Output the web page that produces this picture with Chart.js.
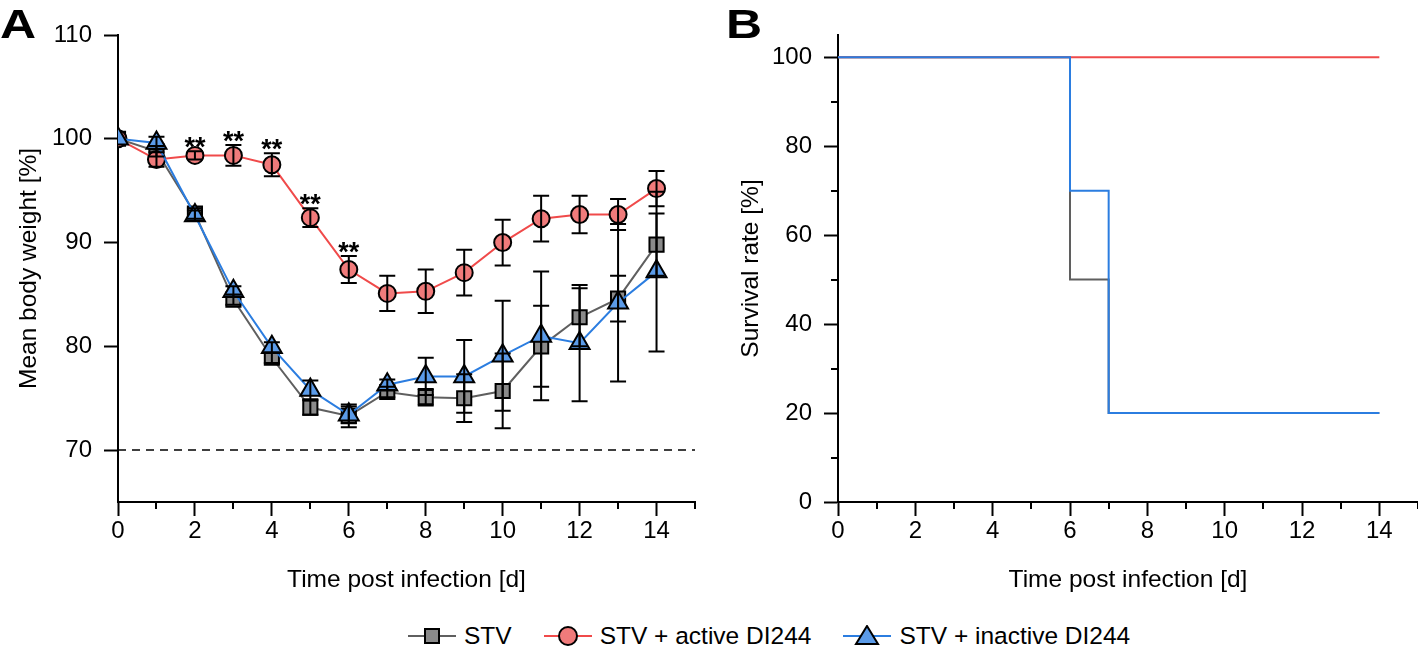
<!DOCTYPE html>
<html>
<head>
<meta charset="utf-8">
<script src="https://cdn.jsdelivr.net/npm/chart.js@4.4.1/dist/chart.umd.min.js"></script>
<style>
  body { margin: 0; background: #fff; font-family: "Liberation Sans", Arial, sans-serif; }
  #wrap { position: relative; width: 1418px; height: 648px; overflow: hidden; }
  #chartA { position: absolute; left: 0; top: 0; }
  #chartB { position: absolute; left: 710px; top: 0; }
  .panel { position: absolute; font-weight: bold; font-size: 40px; line-height: 40px; transform: scaleX(1.25); transform-origin: left top; }
  #legend { position: absolute; left: 408px; top: 622px; display: flex; align-items: center; font-size: 24.5px; }
  #legend .item { display: flex; align-items: center; margin-right: 32px; }
  #legend svg { margin-right: 8px; }
</style>
</head>
<body>
<div id="wrap">
  <canvas id="chartA" width="710" height="600"></canvas>
  <canvas id="chartB" width="708" height="600"></canvas>
  <div class="panel" style="left:0;top:4px;">A</div>
  <div class="panel" style="left:726px;top:4px;">B</div>
  <div id="legend"></div>
</div>
<script>
// ---- data (panel A: body weight) ----
const days = [0, 1, 2, 3, 4, 5, 6, 7, 8, 9, 10, 11, 12, 13, 14];
const stvWeight = [100, 98.8, 92.8, 84.5, 78.9, 74.1, 73.3, 75.6, 75.1, 75.0, 75.7, 80.0, 82.8, 84.6, 89.8];
const stvErr = [0, 0.5, 0.5, 0.5, 0.5, 0.7, 1.1, 0.5, 0.8, 2.3, 3.6, 3.9, 2.8, 2.2, 3.0];
const activeWeight = [100, 98.0, 98.4, 98.4, 97.5, 92.4, 87.4, 85.1, 85.3, 87.1, 90.0, 92.3, 92.7, 92.7, 95.2];
const activeErr = [0, 0.7, 0.4, 1.0, 1.1, 0.9, 1.3, 1.7, 2.1, 2.2, 2.2, 2.2, 1.8, 1.5, 1.7];
const inactiveWeight = [100, 99.6, 92.6, 85.3, 79.9, 75.8, 73.4, 76.3, 77.1, 77.1, 79.1, 81.0, 80.3, 84.2, 87.2];
const inactiveErr = [0, 0.6, 0.5, 0.5, 0.5, 0.9, 0.8, 0.5, 1.8, 3.5, 5.3, 6.2, 5.6, 7.6, 7.7];
const starDays = [2, 3, 4, 5, 6];
const thresholdLine = 70;

// ---- data (panel B: survival) ----
const stvSurvDays = [0, 6, 7, 14];
const stvSurv = [100, 50, 20, 20];
const activeSurvDays = [0, 14];
const activeSurv = [100, 100];
const inactiveSurvDays = [0, 6, 7, 14];
const inactiveSurv = [100, 70, 20, 20];

// ---- ticks ----
const xTicks = [0, 2, 4, 6, 8, 10, 12, 14];
const xMinorTicks = [1, 3, 5, 7, 9, 11, 13, 15];
const yTicksA = [70, 80, 90, 100, 110];
const yTicksB = [0, 20, 40, 60, 80, 100];
const yMinorTicksB = [10, 30, 50, 70, 90];

const labels = ['STV', 'STV + active DI244', 'STV + inactive DI244'];

const GRAY_LINE = '#5f5f5f', GRAY_FILL = '#8a8a8a';
const RED_LINE = '#f04a4a', RED_FILL = '#f07b7b';
const BLUE_LINE = '#2b7de0', BLUE_FILL = '#5b9be8';
const FONT = '"Liberation Sans", Arial, sans-serif';

const toXY = (xs, ys) => xs.map((x, i) => ({ x, y: ys[i] }));

// error bars drawn on top of the datasets
const errorBarPlugin = {
    id: 'errorBars',
    afterDatasetsDraw(chart) {
        const ctx = chart.ctx;
        const xs = chart.scales.x, ys = chart.scales.y;
        ctx.save();
        ctx.strokeStyle = '#000';
        ctx.lineWidth = 2;
        chart.data.datasets.forEach(ds => {
            if (!ds.errors) return;
            ds.data.forEach((p, i) => {
                const e = ds.errors[i];
                if (!e) return;
                const px = xs.getPixelForValue(p.x);
                const top = ys.getPixelForValue(p.y + e);
                const bot = ys.getPixelForValue(p.y - e);
                ctx.beginPath();
                ctx.moveTo(px, top); ctx.lineTo(px, bot);
                ctx.moveTo(px - 8, top); ctx.lineTo(px + 8, top);
                ctx.moveTo(px - 8, bot); ctx.lineTo(px + 8, bot);
                ctx.stroke();
            });
        });
        // significance stars above the active series
        ctx.fillStyle = '#000';
        ctx.font = 'bold 27px ' + FONT;
        ctx.textAlign = 'center';
        ctx.textBaseline = 'alphabetic';
        starDays.forEach(d => {
            const i = days.indexOf(d);
            const px = xs.getPixelForValue(d);
            const top = ys.getPixelForValue(activeWeight[i] + activeErr[i]);
            ctx.fillText('**', px, top + 5);
        });
        ctx.restore();
    }
};

// short minor tick marks
const minorTickPlugin = {
    id: 'minorTicks',
    afterDraw(chart, args, opts) {
        const ctx = chart.ctx;
        const xs = chart.scales.x, ys = chart.scales.y;
        const area = chart.chartArea;
        ctx.save();
        ctx.strokeStyle = '#000';
        ctx.lineWidth = 2;
        ctx.beginPath();
        (opts.x || []).forEach(v => {
            const px = Math.round(xs.getPixelForValue(v));
            ctx.moveTo(px, area.bottom); ctx.lineTo(px, area.bottom + 7);
        });
        (opts.y || []).forEach(v => {
            const py = Math.round(ys.getPixelForValue(v));
            ctx.moveTo(area.left, py); ctx.lineTo(area.left - 7, py);
        });
        ctx.stroke();
        ctx.restore();
    }
};

function axes(cfg) {
    const tickFont = { family: FONT, size: 24 };
    const titleFont = { family: FONT, size: 24.5 };
    return {
        x: {
            type: 'linear', min: 0, max: 15,
            afterBuildTicks: s => { s.ticks = xTicks.map(v => ({ value: v })); },
            afterFit: s => { s.height = 98; },
            grid: { drawOnChartArea: false, drawTicks: true, tickLength: 14, tickWidth: 2, tickColor: '#000' },
            border: { display: true, color: '#000', width: 2 },
            ticks: { color: '#000', font: tickFont, padding: 1, maxRotation: 0 },
            title: { display: true, text: 'Time post infection [d]', color: '#000', font: titleFont, padding: { top: 0, bottom: 5 } }
        },
        y: {
            type: 'linear', min: cfg.ymin, max: cfg.ymax,
            afterBuildTicks: s => { s.ticks = cfg.yTicks.map(v => ({ value: v })); },
            afterFit: s => { s.width = cfg.yWidth; },
            grid: { drawOnChartArea: false, drawTicks: true, tickLength: 14, tickWidth: 2, tickColor: '#000' },
            border: { display: true, color: '#000', width: 2 },
            ticks: { color: '#000', font: tickFont, padding: 12 },
            title: { display: true, text: cfg.yTitle, color: '#000', font: titleFont, padding: { top: cfg.yTitlePad, bottom: 0 } }
        }
    };
}

function weightSeries(label, ys, errs, line, fill, style, radius, order) {
    return {
        label, data: toXY(days, ys), errors: errs, order,
        borderColor: line, borderWidth: 2,
        pointStyle: style, pointRadius: radius, pointBackgroundColor: fill,
        pointBorderColor: '#000', pointBorderWidth: 2
    };
}

new Chart(document.getElementById('chartA'), {
    type: 'line',
    data: {
        datasets: [
            weightSeries(labels[0], stvWeight, stvErr, GRAY_LINE, GRAY_FILL, 'rect', 10, 3),
            weightSeries(labels[1], activeWeight, activeErr, RED_LINE, RED_FILL, 'circle', 8.5, 2),
            weightSeries(labels[2], inactiveWeight, inactiveErr, BLUE_LINE, BLUE_FILL, 'triangle', 11.5, 1),
            {
                label: 'threshold', data: toXY([0, 15], [thresholdLine, thresholdLine]), order: 10,
                borderColor: '#000', borderWidth: 1.5, borderDash: [8, 6], pointRadius: 0
            }
        ]
    },
    options: {
        responsive: false, animation: false,
        layout: { padding: { left: 0, right: 15, top: 35, bottom: 0 } },
        plugins: { legend: { display: false }, tooltip: { enabled: false }, minorTicks: { x: xMinorTicks } },
        scales: axes({ ymin: 65, ymax: 110, yTicks: yTicksA, yWidth: 118, yTitle: 'Mean body weight [%]', yTitlePad: 15 })
    },
    plugins: [errorBarPlugin, minorTickPlugin]
});

function survSeries(label, xs, ys, color, order) {
    return {
        label, data: toXY(xs, ys), order, stepped: true,
        borderColor: color, borderWidth: 2, pointRadius: 0
    };
}

new Chart(document.getElementById('chartB'), {
    type: 'line',
    data: {
        datasets: [
            survSeries(labels[0], stvSurvDays, stvSurv, GRAY_LINE, 3),
            survSeries(labels[1], activeSurvDays, activeSurv, RED_LINE, 2),
            survSeries(labels[2], inactiveSurvDays, inactiveSurv, BLUE_LINE, 1)
        ]
    },
    options: {
        responsive: false, animation: false,
        layout: { padding: { left: 0, right: 0, top: 35, bottom: 0 } },
        plugins: { legend: { display: false }, tooltip: { enabled: false }, minorTicks: { x: xMinorTicks, y: yMinorTicksB } },
        scales: axes({ ymin: 0, ymax: 105, yTicks: yTicksB, yWidth: 128, yTitle: 'Survival rate [%]', yTitlePad: 27 })
    },
    plugins: [minorTickPlugin]
});

// shared legend below both panels
const legendMarks = [
    [GRAY_LINE, GRAY_FILL, '<rect x="17" y="4" width="14" height="14"/>'],
    [RED_LINE, RED_FILL, '<circle cx="24" cy="11" r="9"/>'],
    [BLUE_LINE, BLUE_FILL, '<polygon points="24,1 35,19 13,19"/>']
];
document.getElementById('legend').innerHTML = labels.map((t, i) => {
    const [line, fill, shape] = legendMarks[i];
    return '<div class="item"><svg width="48" height="22" viewBox="0 0 48 22">' +
        '<line x1="0" y1="11" x2="48" y2="11" stroke="' + line + '" stroke-width="2"/>' +
        '<g fill="' + fill + '" stroke="#000" stroke-width="2">' + shape + '</g></svg>' +
        '<span>' + t + '</span></div>';
}).join('');
</script>
</body>
</html>
